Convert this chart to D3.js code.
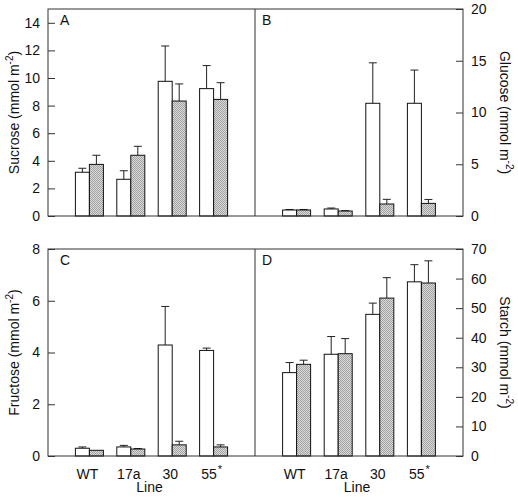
<!DOCTYPE html>
<html><head><meta charset="utf-8">
<script src="https://cdn.jsdelivr.net/npm/d3@7"></script>
<style>body{margin:0;background:#fff}svg{display:block;font-family:"Liberation Sans",Arial,sans-serif}</style>
</head><body>
<svg id="c" width="518" height="497"></svg>
<script>
const categories = ["WT", "17a", "30", "55"];
const categoryMarks = ["", "", "", "*"];

const sucroseOpen = [3.17, 2.66, 9.76, 9.23];
const sucroseOpenErr = [0.29, 0.62, 2.56, 1.67];
const sucroseHatch = [3.74, 4.40, 8.33, 8.45];
const sucroseHatchErr = [0.66, 0.65, 1.24, 1.21];

const glucoseOpen = [0.58, 0.68, 10.89, 10.89];
const glucoseOpenErr = [0.05, 0.09, 3.91, 3.21];
const glucoseHatch = [0.58, 0.48, 1.16, 1.22];
const glucoseHatchErr = [0.05, 0.04, 0.45, 0.38];

const fructoseOpen = [0.30, 0.35, 4.29, 4.08];
const fructoseOpenErr = [0.05, 0.06, 1.49, 0.09];
const fructoseHatch = [0.22, 0.27, 0.43, 0.35];
const fructoseHatchErr = [0.0, 0.02, 0.14, 0.08];

const starchOpen = [28.2, 34.4, 47.9, 58.9];
const starchOpenErr = [3.4, 6.0, 3.8, 5.8];
const starchHatch = [31.0, 34.6, 53.4, 58.5];
const starchHatchErr = [1.4, 5.1, 6.9, 7.5];

const sucroseTicks = [0, 2, 4, 6, 8, 10, 12, 14];
const glucoseTicks = [0, 5, 10, 15, 20];
const fructoseTicks = [0, 2, 4, 6, 8];
const starchTicks = [0, 10, 20, 30, 40, 50, 60, 70];

const svg = d3.select("#c");
const defs = svg.append("defs");
const pat = defs.append("pattern").attr("id", "hatch").attr("patternUnits", "userSpaceOnUse")
  .attr("width", 2).attr("height", 2);
pat.append("rect").attr("width", 2).attr("height", 2).attr("fill", "#dadada");
pat.append("rect").attr("width", 1).attr("height", 1).attr("fill", "#a2a2a2");
pat.append("rect").attr("x", 1).attr("y", 1).attr("width", 1).attr("height", 1).attr("fill", "#a2a2a2");

const L = 48, M = 255, R = 463;
const rows = [{top: 9, bot: 216}, {top: 249, bot: 456}];
const frameColor = "#333";

const panels = [
  {letter: "A", row: 0, side: "left", x0: L, x1: M, max: 15, ticks: sucroseTicks, label: "Sucrose",
   a: sucroseOpen, ae: sucroseOpenErr, b: sucroseHatch, be: sucroseHatchErr},
  {letter: "B", row: 0, side: "right", x0: M, x1: R, max: 20, ticks: glucoseTicks, label: "Glucose",
   a: glucoseOpen, ae: glucoseOpenErr, b: glucoseHatch, be: glucoseHatchErr},
  {letter: "C", row: 1, side: "left", x0: L, x1: M, max: 8, ticks: fructoseTicks, label: "Fructose",
   a: fructoseOpen, ae: fructoseOpenErr, b: fructoseHatch, be: fructoseHatchErr},
  {letter: "D", row: 1, side: "right", x0: M, x1: R, max: 70, ticks: starchTicks, label: "Starch",
   a: starchOpen, ae: starchOpenErr, b: starchHatch, be: starchHatchErr}
];

const barW = 14, capW = 8;

panels.forEach(p => {
  const r = rows[p.row];
  const x = d3.scaleLinear().domain([0, categories.length + 1]).range([p.x0, p.x1]);
  const y = d3.scaleLinear().domain([0, p.max]).range([r.bot, r.top]);
  const g = svg.append("g");

  const series = [
    {vals: p.a, err: p.ae, off: -barW, fill: "#fff"},
    {vals: p.b, err: p.be, off: 0, fill: "url(#hatch)"}
  ];
  series.forEach(s => {
    categories.forEach((c, i) => {
      const cx = x(i + 1) + s.off;
      const mid = cx + barW / 2;
      const top = y(s.vals[i]);
      const et = y(s.vals[i] + s.err[i]);
      if (s.err[i] > 0) {
        g.append("line").attr("x1", mid).attr("x2", mid).attr("y1", top).attr("y2", et)
          .attr("stroke", "#222").attr("stroke-width", 1);
        g.append("line").attr("x1", mid - capW / 2).attr("x2", mid + capW / 2).attr("y1", et).attr("y2", et)
          .attr("stroke", "#222").attr("stroke-width", 1);
      }
      g.append("rect").attr("x", cx).attr("y", top).attr("width", barW).attr("height", r.bot - top)
        .attr("fill", s.fill).attr("stroke", "#111").attr("stroke-width", 1);
    });
  });

  const ax = (p.side === "left" ? d3.axisLeft(y) : d3.axisRight(y))
    .tickValues(p.ticks).tickSize(-7).tickPadding(8).tickFormat(d3.format("d"));
  const axg = svg.append("g").attr("transform", `translate(${p.side === "left" ? p.x0 : p.x1},0)`).call(ax);
  axg.select(".domain").remove();
  axg.selectAll(".tick line").attr("stroke", frameColor);
  axg.selectAll(".tick text").attr("font-size", 14).attr("fill", "#111")
    .attr("font-family", '"Liberation Sans",Arial,sans-serif');

  svg.append("text").attr("x", p.x0 + (p.side === "left" ? 12 : 7)).attr("y", r.top + 16)
    .attr("font-size", 14).attr("fill", "#111").text(p.letter);

  const cy = (r.top + r.bot) / 2;
  const tx = p.side === "left" ? 14 : 505;
  const rot = p.side === "left" ? -90 : 90;
  const t = svg.append("text").attr("transform", `translate(${tx},${cy}) rotate(${rot})`)
    .attr("text-anchor", "middle").attr("dominant-baseline", "central")
    .attr("font-size", 14).attr("fill", "#111");
  t.append("tspan").text(p.label + " (mmol m");
  t.append("tspan").attr("dy", -5).attr("font-size", 10).text("-2");
  t.append("tspan").attr("dy", 5).text(")");

  if (p.row === 1) {
    categories.forEach((c, i) => {
      const tt = svg.append("text").attr("x", x(i + 1) - 2).attr("y", 479)
        .attr("text-anchor", "middle").attr("font-size", 14).attr("fill", "#111");
      tt.append("tspan").text(c);
      if (categoryMarks[i]) tt.append("tspan").attr("dy", -6).attr("dx", 1).attr("font-size", 11).text(categoryMarks[i]);
    });
    svg.append("text").attr("x", (p.x0 + p.x1) / 2 - 2).attr("y", 492).attr("text-anchor", "middle")
      .attr("font-size", 14).attr("fill", "#111").text("Line");
  }
});

rows.forEach(r => {
  svg.append("rect").attr("x", L).attr("y", r.top).attr("width", R - L).attr("height", r.bot - r.top)
    .attr("fill", "none").attr("stroke", frameColor).attr("stroke-width", 1);
  svg.append("line").attr("x1", M).attr("x2", M).attr("y1", r.top).attr("y2", r.bot)
    .attr("stroke", frameColor).attr("stroke-width", 1);
});
</script>
</body></html>
